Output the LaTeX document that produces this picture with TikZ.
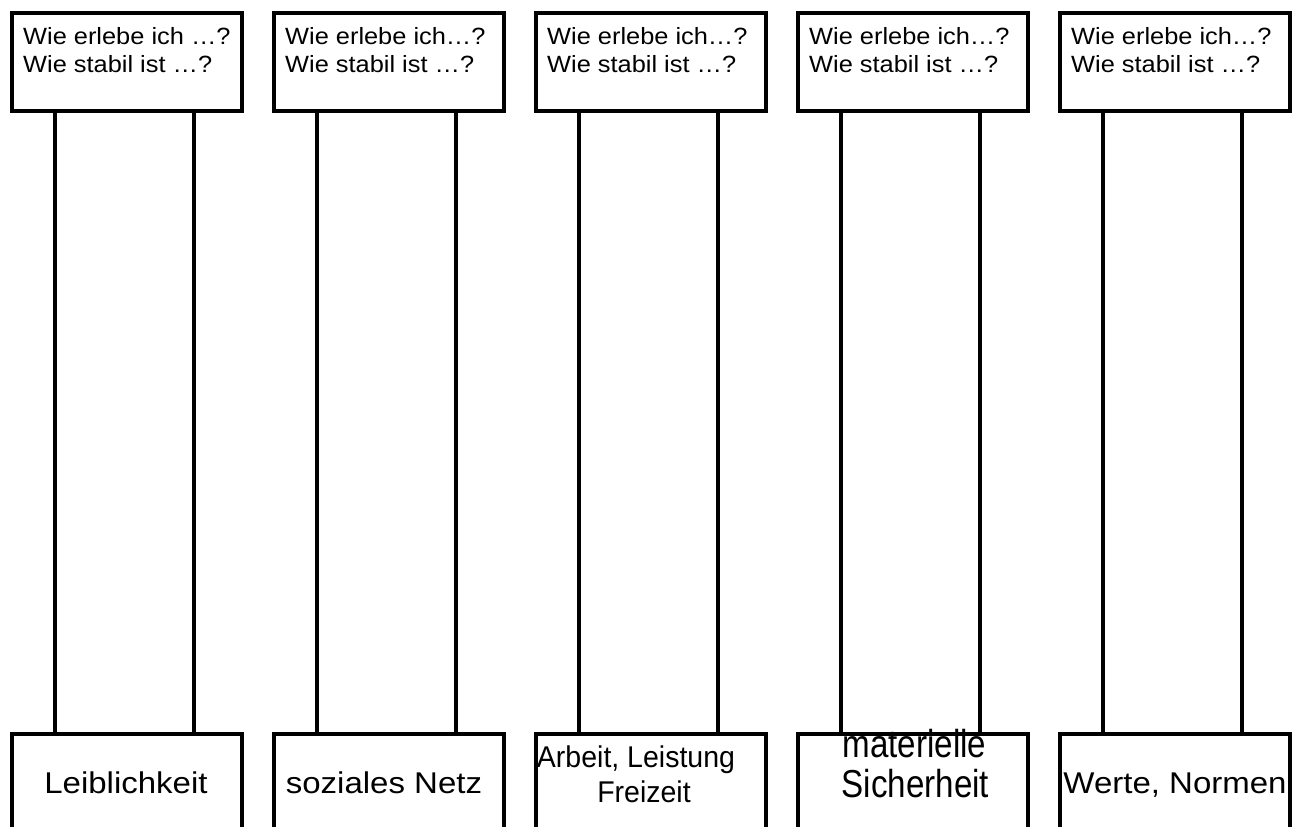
\documentclass[tikz,border=0pt]{standalone}
\usepackage{fontspec}
\setmainfont{Liberation Sans}
\newfontfamily\topf[FakeStretch=1.08]{Liberation Sans}
\newfontfamily\botf[FakeStretch=1.1]{Liberation Sans}
\newfontfamily\arbf[FakeStretch=0.95]{Liberation Sans}
\newfontfamily\matf[FakeStretch=0.85]{Liberation Sans}
\tikzset{
  topbox/.style={draw=black, line width=4pt, rectangle, minimum width=230pt, minimum height=98.5pt, inner sep=0pt, anchor=north west, fill=white},
  botbox/.style={draw=black, line width=4pt, rectangle, minimum width=230pt, minimum height=200pt, inner sep=0pt, anchor=north west},
  leg/.style={draw=black, line width=4pt},
  toptext/.style={anchor=base west, inner sep=0pt, font=\topf\fontsize{23.5pt}{28pt}\selectfont, text=black},
  bottext/.style={anchor=base, inner sep=0pt, font=\botf\fontsize{30pt}{34pt}\selectfont, text=black},
  arbtext/.style={anchor=base, inner sep=0pt, font=\arbf\fontsize{30pt}{34pt}\selectfont, text=black},
  mattext/.style={anchor=base, inner sep=0pt, font=\matf\fontsize{39pt}{42pt}\selectfont, text=black},
}
\begin{document}
\begin{tikzpicture}[x=1pt,y=-1pt]
\useasboundingbox (0,0) rectangle (1293,827);
\clip (0,0) rectangle (1293,827);
\fill[white] (0,0) rectangle (1293,827);
% top boxes
\foreach \k/\la/\lb in {1/{Wie erlebe ich \ldots?}/{Wie stabil ist \ldots?},
                         2/{Wie erlebe ich\ldots?}/{Wie stabil ist \ldots?},
                         3/{Wie erlebe ich\ldots?}/{Wie stabil ist \ldots?},
                         4/{Wie erlebe ich\ldots?}/{Wie stabil ist \ldots?},
                         5/{Wie erlebe ich\ldots?}/{Wie stabil ist \ldots?}}{
  \pgfmathsetmacro{\L}{9.5+262*(\k-1)}
  \node[topbox] (t\k) at (\L,10.5) {};
  \node[botbox] (b\k) at (\L,731.5) {};
  \node[toptext] (t\k a) at (\L+13.5,44) {\la};
  \node[toptext] (t\k b) at (\L+13.5,72) {\lb};
  \draw[leg] ([xshift=45.5pt]t\k.south west) -- ([xshift=45.5pt]b\k.north west);
  \draw[leg] ([xshift=184.5pt]t\k.south west) -- ([xshift=184.5pt]b\k.north west);
}
% bottom texts
\node[bottext] (l1) at (126,793) {Leiblichkeit};
\node[bottext] (l2) at (384,793) {soziales Netz};
\node[arbtext] (l3a) at (636,767) {Arbeit, Leistung};
\node[arbtext] (l3b) at (644,802) {Freizeit};
\node[mattext] (l4a) at (914.5,757) {materielle};
\node[mattext] (l4b) at (915.5,797) {Sicherheit};
\node[bottext] (l5) at (1175,793) {Werte, Normen};
\end{tikzpicture}
\end{document}
